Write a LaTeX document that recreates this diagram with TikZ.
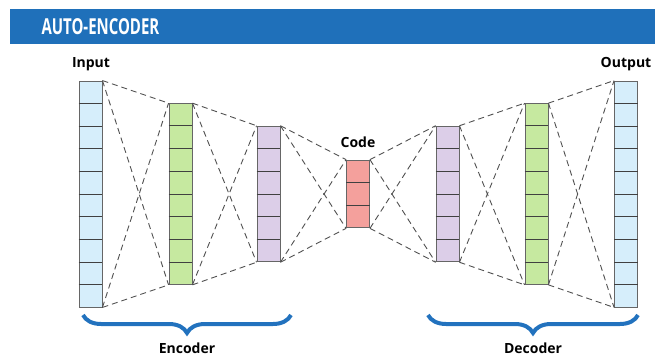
\documentclass[tikz,border=0pt]{standalone}
\usepackage{fontspec}
\setmainfont{Open Sans}
\usetikzlibrary{calc,decorations.pathreplacing}

\definecolor{bannerblue}{RGB}{31,112,186}
\definecolor{braceblue}{RGB}{34,114,190}
\definecolor{inblue}{RGB}{214,238,251}
\definecolor{hidgreen}{RGB}{198,233,160}
\definecolor{hidpurple}{RGB}{220,206,232}
\definecolor{codered}{RGB}{244,160,156}
\definecolor{edgegray}{RGB}{80,80,80}

\begin{document}
\begin{tikzpicture}[x=1pt, y=-1pt,
  layer/.style={draw=black!60, line width=0.9pt, minimum width=23pt, inner sep=0pt},
  cell/.style={draw=black!75, line width=0.8pt},
  link/.style={draw=edgegray, dash pattern=on 6pt off 4pt, line width=0.9pt},
  lbl/.style={font=\bfseries\fontsize{14}{16}\selectfont, text=black},
  curly/.style={draw=braceblue, line width=4pt, decorate,
                decoration={brace, amplitude=18pt}}]

\useasboundingbox (0,0) rectangle (655,358);

% title bar
\fill[bannerblue] (10,9) rectangle (655,44);
\node[anchor=west, text=white, font=\bfseries\fontsize{22}{24}\selectfont] (title) at (38,26.5)
  {\scalebox{0.68}[1]{AUTO-ENCODER}};

% layers, one cell = 22.6
\foreach \nm/\x/\n/\col in {in/90.5/10/inblue, encA/180.5/8/hidgreen, encB/268.5/6/hidpurple,
                            code/358/3/codered,
                            decB/447.5/6/hidpurple, decA/536.5/8/hidgreen, out/626/10/inblue}{
  \node[layer, fill=\col, minimum height=\n*22.6pt] (\nm) at (\x,194) {};
  \pgfmathtruncatemacro\last{\n-1}
  \foreach \k in {1,...,\last}
    \draw[cell] ($(\nm.north west)!\k/\n!(\nm.south west)$) -- ($(\nm.north east)!\k/\n!(\nm.south east)$);
}

% dashed links between neighbours
\foreach \a/\b in {in/encA, encA/encB, encB/code, code/decB, decB/decA, decA/out}{
  \draw[link] (\a.north east) -- (\b.north west);
  \draw[link] (\a.south east) -- (\b.south west);
  \draw[link] (\a.north east) -- (\b.south west);
  \draw[link] (\a.south east) -- (\b.north west);
}

% labels
\node[lbl] (inLbl) at (91,64) {Input};
\node[lbl] (outLbl) at (626,64) {Output};
\node[lbl] (codeLbl) at (358,142) {Code};

% braces
\coordinate (encR) at (291,315);
\coordinate (encL) at (83,315);
\coordinate (decR) at (638,315);
\coordinate (decL) at (428,315);
\draw[curly] (encR) -- (encL);
\draw[curly] (decR) -- (decL);
\node[lbl] (encLbl) at (187,348) {Encoder};
\node[lbl] (decLbl) at (533,348) {Decoder};

\end{tikzpicture}
\end{document}
